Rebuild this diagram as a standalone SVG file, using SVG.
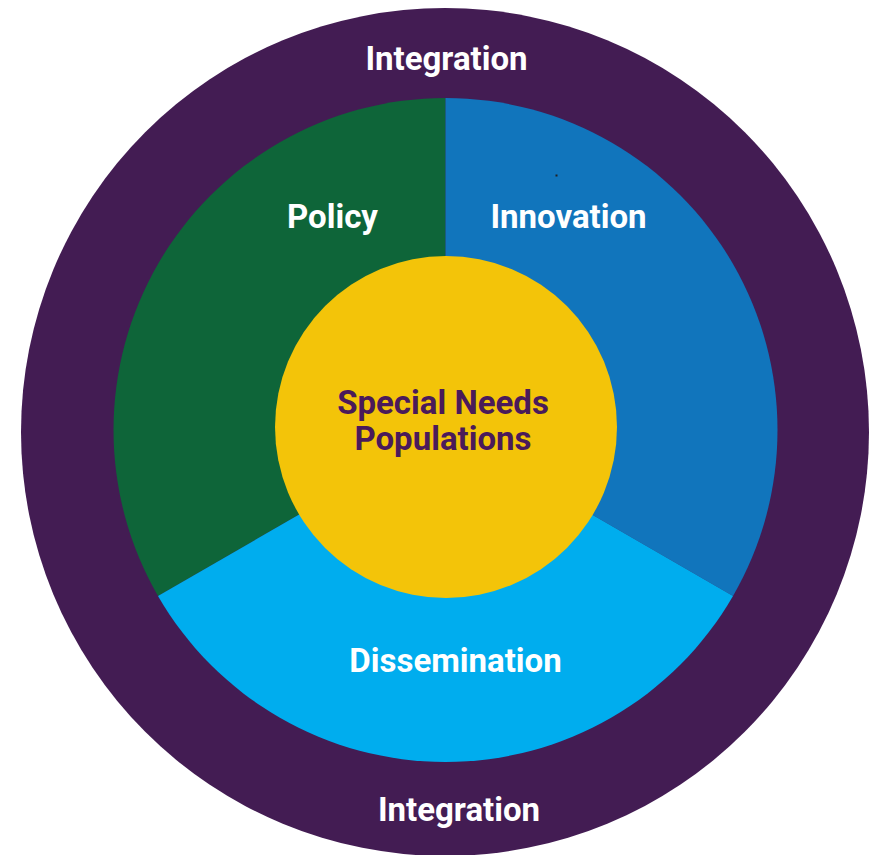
<svg xmlns="http://www.w3.org/2000/svg" width="869" height="855" viewBox="0 0 869 855">
<style>
text{font-family:Roboto,"Liberation Sans",sans-serif;font-weight:700;font-size:33px;text-anchor:middle}
.w{fill:#ffffff}
.p{fill:#4A1A5A}
</style>
<rect width="869" height="855" fill="#ffffff"/>
<g id="outer-ring">
<circle cx="445" cy="432" r="424" fill="#431C53"/>
<text class="w" x="446.5" y="70">Integration</text>
<text class="w" x="459" y="821">Integration</text>
</g>
<g id="policy">
<path d="M445.5 430 L445.5 98 A332 332 0 0 0 157.98 596 Z" fill="#0E6539"/>
<text class="w" x="332.5" y="228">Policy</text>
</g>
<g id="innovation">
<path d="M445.5 430 L445.5 98 A332 332 0 0 1 733.02 596 Z" fill="#1175BC"/>
<text class="w" x="568.5" y="228">Innovation</text>
<rect x="555.5" y="174.5" width="2" height="2" fill="#222222"/>
</g>
<g id="dissemination">
<path d="M445.5 430 L733.02 596 A332 332 0 0 1 157.98 596 Z" fill="#00ADEE"/>
<text class="w" x="455.5" y="672">Dissemination</text>
</g>
<g id="special-needs">
<circle cx="446" cy="427" r="171" fill="#F3C409"/>
<text class="p" x="443" y="414">Special Needs</text>
<text class="p" x="443" y="450">Populations</text>
</g>
<g id="connectors"/>
</svg>
